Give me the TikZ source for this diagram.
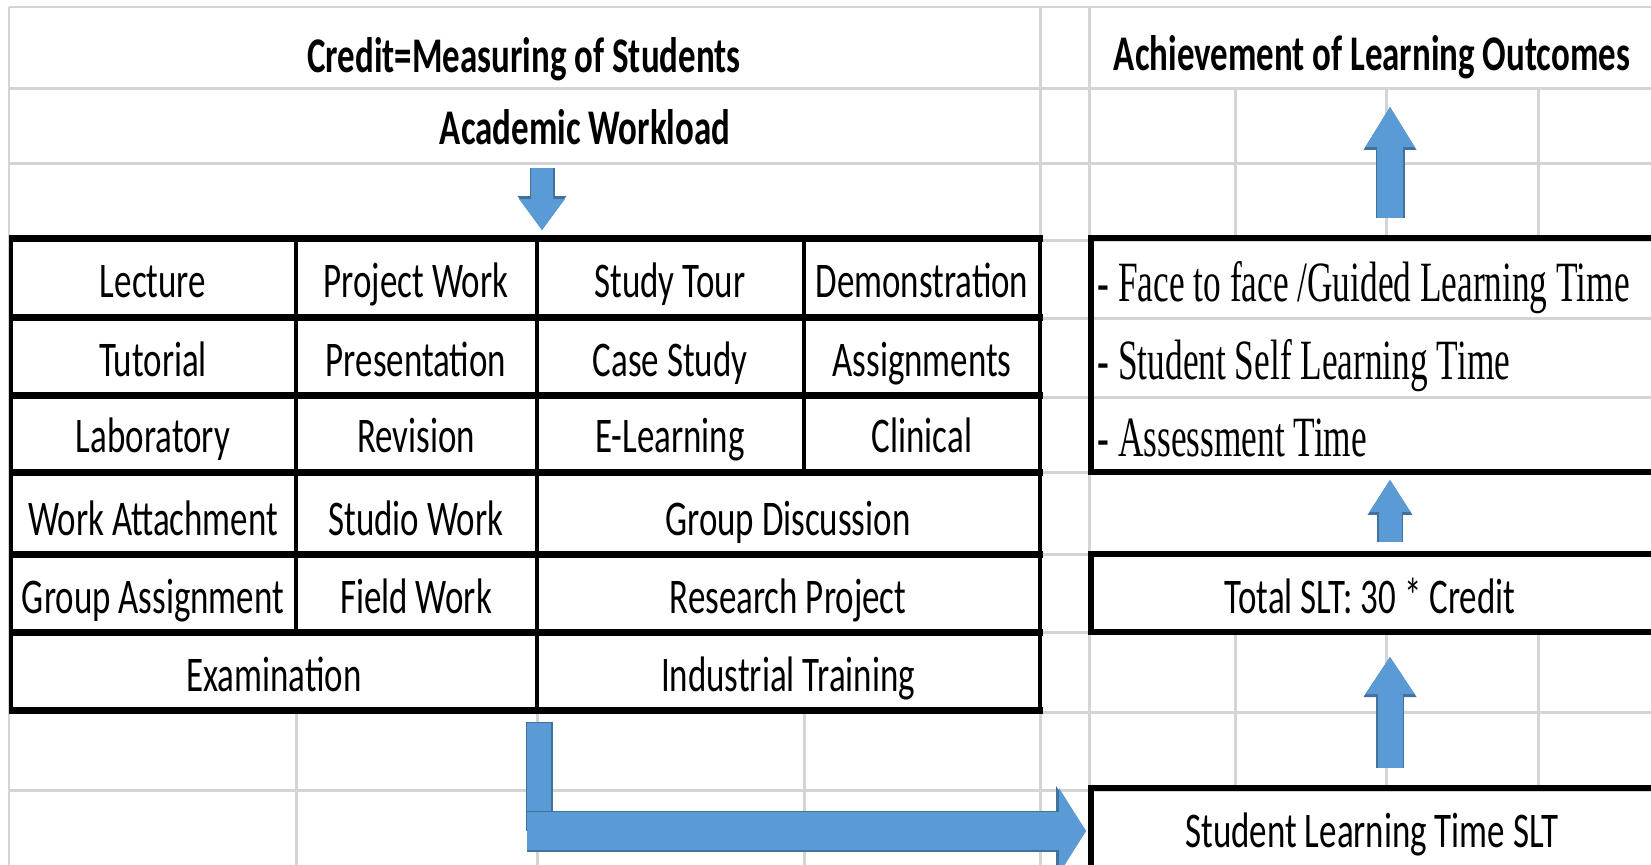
\documentclass[tikz,border=0pt]{standalone}
\usepackage{fontspec}
\setmainfont{Carlito}
\newfontfamily\calibri[FakeStretch=0.70]{Carlito}
\newfontfamily\timesfont[FakeStretch=0.62]{Liberation Serif}
\usepackage{xcolor}
\usetikzlibrary{arrows.meta}
\definecolor{gridgray}{HTML}{D4D4D4}
\definecolor{arrowblue}{HTML}{5B9BD5}
\definecolor{arrowedge}{HTML}{41719C}

\begin{document}
\begin{tikzpicture}[x=0.1mm,y=-0.1mm,
  gridline/.style={gridgray,line width=0.3mm},
  hrule/.style={line width=0.7mm},
  vrule/.style={line width=0.45mm},
  cell/.style={anchor=base,inner sep=0pt,font=\calibri\fontsize{14.2}{17}\selectfont},
  head/.style={cell,font=\calibri\bfseries\fontsize{14.2}{17}\selectfont},
  timesline/.style={anchor=base west,inner sep=0pt,font=\timesfont\fontsize{16.2}{19}\selectfont},
  rbox/.style={draw,line width=0.6mm,inner sep=0pt,outer sep=0pt,minimum width=59.8mm},
  blockarrow/.style n args={3}{draw=arrowblue,line width=#1,-{Triangle[width=#2,length=#3,line width=0pt]}}]
\clip (0,0) rectangle (1651,865);
\fill[white] (0,0) rectangle (1651,865);

% sheet grid
\foreach \y in {7,88,163,240,318,397,472,554,632,712,790}
  \draw[gridline] (9,\y) -- (1651,\y);
\foreach \x in {9,1040,1089}
  \draw[gridline] (\x,7) -- (\x,865);
\foreach \x in {296,537,804}
  \draw[gridline] (\x,710) -- (\x,865);
\foreach \x in {1235,1386,1538}
  \draw[gridline] (\x,88) -- (\x,238) (\x,632) -- (\x,788);

% headings
\node[head] (credit) at (524,72) {Credit=Measuring of Students};
\node[head] (workload) at (585,145) {Academic Workload};
\node[head] (outcomes) at (1372,71) {Achievement of Learning Outcomes};

% activity table
\foreach \y in {238,317,395,472,554,632,710}
  \draw[hrule] (9,\y) -- (1043,\y);
\foreach \x/\a/\b in {11/235/713,296/238/632,537/238/710,804/238/472,1040/235/713}
  \draw[vrule] (\x,\a) -- (\x,\b);
\foreach \name/\txt/\x/\y in {lecture/Lecture/153/298,project/Project Work/416/298,
  tour/Study Tour/670/298,demo/Demonstration/922/298,
  tutorial/Tutorial/153/376,present/Presentation/416/376,
  cases/Case Study/670/376,assign/Assignments/922/376,
  lab/Laboratory/153/453,revision/Revision/416/453,
  elearn/E-Learning/670/453,clinical/Clinical/922/453,
  attach/Work Attachment/153/535,studio/Studio Work/416/535,discuss/Group Discussion/788/535,
  grpassign/Group Assignment/153/613,field/Field Work/416/613,research/Research Project/788/613,
  exam/Examination/274/691,industry/Industrial Training/788/691}
  \node[cell] (\name) at (\x,\y) {\txt};
\coordinate (tabtop) at (542,238);
\coordinate (tabbot) at (539,710);

% SLT boxes
\node[rbox,minimum height=23.4mm] (tbox) at (1390,355) {};
\node[timesline] (face) at (1097,302) {- Face to face /Guided Learning Time};
\node[timesline] (self) at (1097,379) {- Student Self Learning Time};
\node[timesline] (assess) at (1097,457) {- Assessment Time};
\node[rbox,minimum height=7.8mm] (total) at (1390,593) {};
\node[cell] (totaltext) at (1370,613) {Total SLT: 30 * Credit};
\node[rbox,minimum height=8.6mm] (slt) at (1390,831) {};
\node[cell] (slttext) at (1372,847) {Student Learning Time SLT};

% block arrows
\draw[blockarrow={2.2mm}{4.6mm}{3.1mm},preaction={blockarrow={2.5mm}{4.9mm}{3.4mm},draw=arrowedge},
  shorten <=2.3mm,shorten >=0.8mm] (workload.base -| tabtop) -- (tabtop);
\draw[arrowblue,line width=2.4mm,preaction={draw=arrowedge,line width=2.7mm,shorten <=1.15mm},
  shorten <=1.3mm] (tabbot) -- (tabbot |- slt.west);
\draw[blockarrow={3.8mm}{8.6mm}{2.7mm},preaction={blockarrow={4.1mm}{9mm}{3mm},draw=arrowedge},
  shorten >=0.5mm] ([xshift=-1.2mm]tabbot |- slt.west) -- (slt.west);
\draw[blockarrow={2.5mm}{4.9mm}{3.7mm},preaction={blockarrow={2.8mm}{5.3mm}{4mm},draw=arrowedge},
  shorten <=2mm,shorten >=2.5mm] (slt.north) -- (total.south);
\draw[blockarrow={2.3mm}{4.1mm}{3.2mm},preaction={blockarrow={2.6mm}{4.5mm}{3.5mm},draw=arrowedge},
  shorten <=1.2mm,shorten >=0.8mm] (total.north) -- (tbox.south);
\draw[blockarrow={2.6mm}{4.9mm}{4mm},preaction={blockarrow={2.9mm}{5.3mm}{4.3mm},draw=arrowedge},
  shorten <=2mm,shorten >=3.6mm] (tbox.north) -- (tbox.north |- outcomes.base);
\end{tikzpicture}
\end{document}
